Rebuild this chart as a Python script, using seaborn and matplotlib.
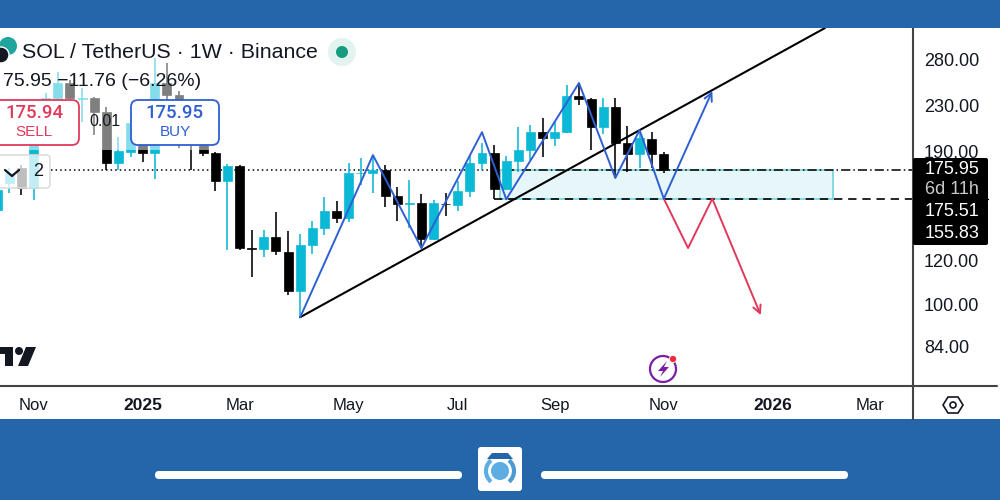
import numpy as np
import pandas as pd
import matplotlib
matplotlib.use("Agg")
import matplotlib.pyplot as plt
from matplotlib.patches import FancyBboxPatch, Circle, Polygon, Rectangle, Arc
import seaborn as sns

# Weekly candles, week index relative to the first black candle visible beside "0.01"
weeks = list(range(-9, 47))
highs = [162.9,177.2,179.5,222.3,242.7,265.1,256.4,247.9,238.7,228.9,201.8,221.4,218.6,281.2,275.3,244.8,230.8,216.7,189.5,
         180.2,179.5,136.6,136.6,147.3,136.0,134.3,141.8,156.8,154.2,181.0,184.8,187.1,179.5,163.6,168.5,158.8,154.9,159.5,
         167.8,187.1,196.8,195.2,186.4,210.5,212.2,218.6,214.9,251.1,253.2,237.7,237.7,237.7,211.4,207.8,206.0,189.5]
lows = [147.3,159.5,158.2,154.9,212.2,235.7,236.7,214.9,203.5,175.7,175.7,185.6,181.7,169.2,235.7,192.7,175.7,186.4,160.8,
        125.6,125.6,112.1,122.0,123.0,104.0,94.4,123.5,133.7,140.6,141.2,165.0,159.5,150.4,141.8,137.7,126.7,131.0,144.9,
        147.9,156.8,175.7,155.5,161.5,174.3,183.2,185.6,194.4,205.5,230.8,191.1,204.3,170.0,174.3,177.2,177.2,173.6]
opens = [148.5,166.4,177.2,162.9,216.7,237.7,253.2,237.0,237.7,224.1,181.0,189.5,212.2,188.7,253.2,240.7,226.0,212.2,188.7,
         167.8,178.7,126.9,126.1,132.6,124.6,105.8,128.2,137.7,147.9,143.7,173.3,173.6,175.7,157.5,152.6,152.9,131.5,152.5,
         151.7,160.8,181.0,188.7,162.2,182.5,191.1,206.0,201.0,206.0,239.7,236.7,210.5,228.9,196.8,187.9,200.1,187.9]
closes = [161.5,173.6,162.9,216.7,237.7,253.2,237.7,237.7,224.1,181.0,190.3,214.0,188.7,253.2,240.7,226.0,212.2,188.7,167.8,
          178.7,126.7,126.4,132.6,125.1,105.8,128.2,137.7,147.9,143.7,173.6,173.8,175.7,157.5,152.3,153.1,131.5,152.9,152.1,
          160.8,181.0,188.7,162.2,182.5,191.1,206.0,201.0,206.0,239.7,236.7,210.5,228.9,196.8,187.9,201.0,187.9,175.95]

zig_weeks = [16, 22, 26, 31, 33, 39, 42, 44, 46]
zig_prices = [94.8, 187.1, 126.7, 206.0, 155.5, 253.2, 170.0, 207.8, 155.83]
zig_target = (50, 244.8)
red_weeks = [46, 48, 50]
red_prices = [155.83, 126.7, 155.83]
red_target = (54, 95.6)
trend_weeks = [16, 59.3]
trend_prices = [94.8, 318.9]

last_price = 175.95
zone_low = 155.83
zone_weeks = (32.5, 59.95)

y_ticks = [280, 230, 190, 120, 100, 84]
x_tick_weeks = [-6, 3, 11, 20, 29, 37, 46, 55, 63]
x_tick_labels = ["Nov", "2025", "Mar", "May", "Jul", "Sep", "Nov", "2026", "Mar"]

TEAL = "#0bb9d6"
BLUE = "#2f5fd3"
RED = "#e0395c"
BAND = "#2565aa"

sns.set_theme(style="white")
plt.rcParams["font.family"] = ["Liberation Sans", "DejaVu Sans"]

fig = plt.figure(figsize=(10, 5), dpi=100, facecolor="white")
ax = fig.add_axes([0, 114 / 500, 0.913, 358 / 500])
ax.set_yscale("log")
ax.set_xlim(-8.77, 66.56)
ax.set_ylim(71.03, 318.9)

df = pd.DataFrame({"week": weeks, "open": opens, "high": highs, "low": lows, "close": closes})
df["up"] = df["close"] >= df["open"]
df["color"] = np.where(df["up"], TEAL, "black")

# zone and levels
ax.add_patch(Rectangle((zone_weeks[0], zone_low), zone_weeks[1] - zone_weeks[0], last_price - zone_low,
                       facecolor="#e6f6f9", edgecolor="#6fd4dc", lw=1.2, zorder=1))
ax.plot([-4.6, 32], [last_price, last_price], color="black", lw=1.1, ls=(0, (1, 2)), zorder=1.5)
ax.plot([32.9, 66.56], [last_price, last_price], color="black", lw=1.1, ls=(0, (6, 2, 1, 2)), zorder=1.5)
ax.plot([32, 66.56], [zone_low, zone_low], color="black", lw=1.2, ls=(0, (5, 3.5)), zorder=1.5)

# candles
ax.vlines(df["week"], df["low"], df["high"], colors=df["color"], lw=1.15, zorder=2)
ax.bar(df["week"], (df["close"] - df["open"]).abs(), bottom=df[["open", "close"]].min(axis=1),
       width=0.74, color=df["color"], edgecolor=df["color"], linewidth=0.5, zorder=3)

# drawn lines
sns.lineplot(x=trend_weeks, y=trend_prices, ax=ax, color="black", lw=1.5, sort=False, estimator=None, zorder=4)
sns.lineplot(x=zig_weeks, y=zig_prices, ax=ax, color=BLUE, lw=1.4, sort=False, estimator=None, zorder=5)
sns.lineplot(x=red_weeks, y=red_prices, ax=ax, color=RED, lw=1.4, sort=False, estimator=None, zorder=5)
for start_w, start_p, target, col in [(zig_weeks[-1], zig_prices[-1], zig_target, BLUE),
                                      (red_weeks[-1], red_prices[-1], red_target, RED)]:
    ax.annotate("", xy=target, xytext=(start_w, start_p), zorder=5,
                arrowprops=dict(arrowstyle="->", color=col, lw=1.4, mutation_scale=14, shrinkA=0, shrinkB=0))

ax.set_xticks(x_tick_weeks)
ax.set_xticklabels(x_tick_labels, fontsize=12, color="#131722")
for lab in ax.get_xticklabels():
    lab.set_verticalalignment("baseline")
    if lab.get_text().isdigit():
        lab.set_fontweight("bold")
        lab.set_fontsize(12.5)
ax.tick_params(axis="x", length=0, pad=17)
ax.yaxis.tick_right()
ax.set_yticks(y_ticks)
ax.set_yticklabels([f"{v:.2f}" for v in y_ticks], fontsize=13, color="#131722")
ax.minorticks_off()
ax.tick_params(axis="y", length=0, pad=8)
ax.set_xlabel("")
ax.set_ylabel("")
for s in ["top", "left"]:
    ax.spines[s].set_visible(False)
for s in ["bottom", "right"]:
    ax.spines[s].set_color("#444444")
    ax.spines[s].set_linewidth(1.5)

# pixel-space layer for the app's interface
ov = fig.add_axes([0, 0, 1, 1], facecolor="none")
ov.set_xlim(0, 1000)
ov.set_ylim(500, 0)
ov.axis("off")

ov.add_patch(Rectangle((0, 28), 209, 122, facecolor="white", alpha=0.5, lw=0))
ov.add_patch(Rectangle((0, 0), 1000, 28, facecolor=BAND, lw=0))
ov.add_patch(Rectangle((0, 419), 1000, 81, facecolor=BAND, lw=0))
ov.plot([913, 913], [386, 419], color="#444444", lw=1.5)
ov.plot([913, 997], [386, 386], color="#444444", lw=1.5)


def box(x, y, w, h, r, **kw):
    ov.add_patch(FancyBboxPatch((x + r, y + r), w - 2 * r, h - 2 * r, boxstyle=f"round,pad={r}", **kw))


# order buttons
box(-8, 100, 87, 45, 7, facecolor="white", edgecolor=RED, lw=1.3)
ov.text(35, 113, "175.94", color=RED, fontsize=13.4, family="Roboto", fontweight="medium", ha="center", va="center")
ov.text(34, 132, "SELL", color=RED, fontsize=11, ha="center", va="center")
box(131, 100, 88, 45, 7, facecolor="white", edgecolor=BLUE, lw=1.3)
ov.text(175, 113, "175.95", color=BLUE, fontsize=13.4, family="Roboto", fontweight="medium", ha="center", va="center")
ov.text(175, 132, "BUY", color=BLUE, fontsize=11, ha="center", va="center")
ov.text(105, 122, "0.01", color="#131722", fontsize=11.5, ha="center", va="center")

# quantity box
box(-8, 155, 58, 33, 4, facecolor=(1, 1, 1, 0.75), edgecolor="#dddddd", lw=1.2)
ov.plot([5, 12, 19], [170, 176, 170], color="#131722", lw=1.6)
ov.text(38, 172, "2", color="#131722", fontsize=13, ha="center", va="center")

# title rows
ov.add_patch(Circle((8, 46), 9, facecolor="#1fa59b", lw=0))
ov.add_patch(Circle((1, 55), 8, facecolor="#131722", edgecolor="white", lw=1))
ov.text(22, 52, "SOL / TetherUS · 1W · Binance", color="#131722", fontsize=15.4, ha="left", va="center")
ov.text(3, 82, "75.95 −11.76 (−6.26%)", color="#131722", fontsize=14, ha="left", va="center")
ov.add_patch(Circle((342, 52), 14, facecolor="#e3f3f0", lw=0))
ov.add_patch(Circle((342, 52), 6, facecolor="#159b7e", lw=0))

# price tags
box(913, 158, 75, 87, 2, facecolor="black", lw=0)
ov.plot([913, 988], [198.5, 198.5], color="black", lw=1)
ov.text(952, 170, "175.95", color="white", fontsize=13, ha="center", va="center")
ov.text(952, 189, "6d 11h", color="#c8c8c8", fontsize=13, ha="center", va="center")
ov.text(952, 212, "175.51", color="white", fontsize=13, ha="center", va="center")
ov.text(952, 234, "155.83", color="white", fontsize=13, ha="center", va="center")

# chart maker mark
ov.add_patch(Polygon([(0, 347), (13, 347), (13, 366), (5, 366), (5, 354), (0, 354)], facecolor="#131722", lw=0))
ov.add_patch(Circle((19, 351), 4, facecolor="#131722", lw=0))
ov.add_patch(Polygon([(26, 347), (36, 347), (28, 366), (18, 366)], facecolor="#131722", lw=0))

# lightning icon
ov.add_patch(Circle((663, 369), 13, facecolor="none", edgecolor="#7b1fa2", lw=1.6))
ov.add_patch(Polygon([(667, 361), (658, 371), (663, 371), (660, 377), (669, 367), (664, 367)], facecolor="#7b1fa2", lw=0))
ov.add_patch(Circle((673, 359), 3.6, facecolor="#f02a3a", edgecolor="white", lw=0.6))

# settings icon
ov.add_patch(Polygon([(943, 405), (948, 397), (958, 397), (963, 405), (958, 413), (948, 413)],
                     facecolor="none", edgecolor="#131722", lw=1.2))
ov.add_patch(Circle((953, 405), 3, facecolor="none", edgecolor="#131722", lw=1.2))

# footer
box(155, 471, 307, 8, 4, facecolor="white", lw=0)
box(541, 471, 307, 8, 4, facecolor="white", lw=0)
box(478, 447, 44, 44, 3, facecolor="white", lw=0)
ov.add_patch(Circle((500, 471), 9, facecolor="#5dade2", lw=0))
ov.add_patch(Arc((500, 471), 28, 28, theta1=130, theta2=230, edgecolor="#5dade2", lw=3))
ov.add_patch(Arc((500, 471), 28, 28, theta1=-50, theta2=50, edgecolor="#4a9ad6", lw=3))
ov.add_patch(Polygon([(487, 459), (492, 453), (508, 453), (513, 459)], facecolor=BAND, lw=0))

fig.savefig("out.png", dpi=100)
